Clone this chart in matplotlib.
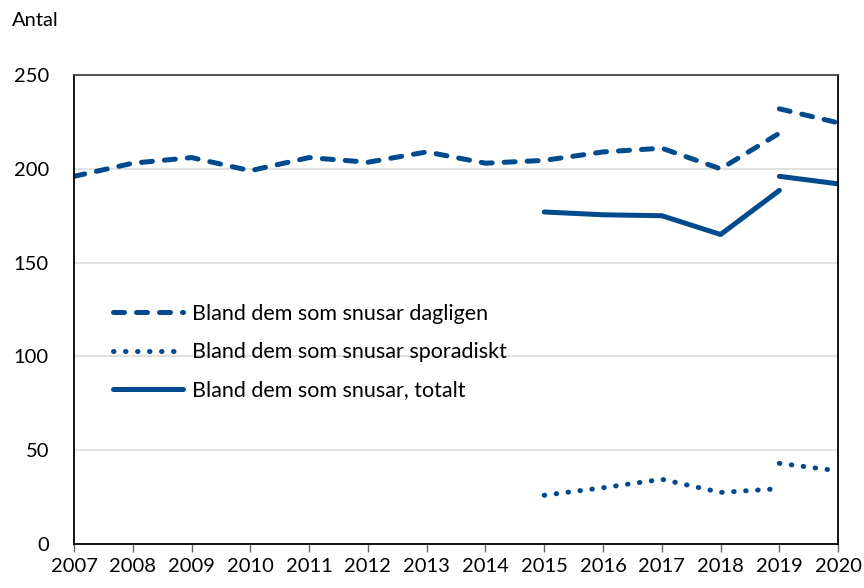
import matplotlib
matplotlib.use("Agg")
import matplotlib.pyplot as plt

plt.rcParams['font.family'] = ['Lato', 'DejaVu Sans']

# Data (series break at 2019)
years_a = [2007, 2008, 2009, 2010, 2011, 2012, 2013, 2014, 2015, 2016, 2017, 2018, 2019]
daily_a = [196, 203, 206, 199, 206, 203.5, 209, 203, 204.5, 209, 211, 200, 219]
years_b = [2015, 2016, 2017, 2018, 2019]
total_a = [177, 175.5, 175, 165, 188.5]
sporadic_a = [26, 30, 34.5, 27.5, 29.5]
years_c = [2019, 2020]
daily_b = [232, 224.5]
total_b = [196, 192]
sporadic_b = [43, 39]

labels = ["Bland dem som snusar dagligen",
          "Bland dem som snusar sporadiskt",
          "Bland dem som snusar, totalt"]
xticks = list(range(2007, 2021))
yticks = [0, 50, 100, 150, 200, 250]

blue = "#004a8d"
lw = 3.6

fig = plt.figure(figsize=(8.64, 5.88), dpi=100)
ax = fig.add_axes([0.0856, 0.0748, 0.8845, 0.7976])

dash_kw = dict(color=blue, lw=lw, dashes=(2.2, 2.4), dash_capstyle="round")
dot_kw = dict(color=blue, lw=lw, dashes=(0.1, 2.3), dash_capstyle="round")
solid_kw = dict(color=blue, lw=lw, solid_capstyle="round")

ax.plot(years_a, daily_a, label=labels[0], **dash_kw)
ax.plot(years_c, daily_b, **dash_kw)
ax.plot(years_b, sporadic_a, label=labels[1], **dot_kw)
ax.plot(years_c, sporadic_b, **dot_kw)
ax.plot(years_b, total_a, label=labels[2], **solid_kw)
ax.plot(years_c, total_b, **solid_kw)

ax.set_xlim(2007, 2020)
ax.set_ylim(0, 250)
ax.set_xticks(xticks)
ax.set_yticks(yticks)
ax.tick_params(axis="x", labelsize=14.5, length=6, width=1, color="#666666", pad=4)
ax.tick_params(axis="y", labelsize=14.5, length=0, pad=18)
ax.grid(axis="y", color="#dddddd", lw=1.2)
ax.set_axisbelow(True)
for s in ax.spines.values():
    s.set_color("black")
    s.set_linewidth(1.3)
ax.spines["top"].set_color("#444444")

fig.text(0.014, 0.965, "Antal", fontsize=14.5, va="center", ha="left")

ax.legend(loc="center left", bbox_to_anchor=(0.026, 0.409), frameon=False,
          fontsize=15.5, handlelength=3.25, handletextpad=0.4, labelspacing=0.85)

fig.savefig("out.png", dpi=100)
